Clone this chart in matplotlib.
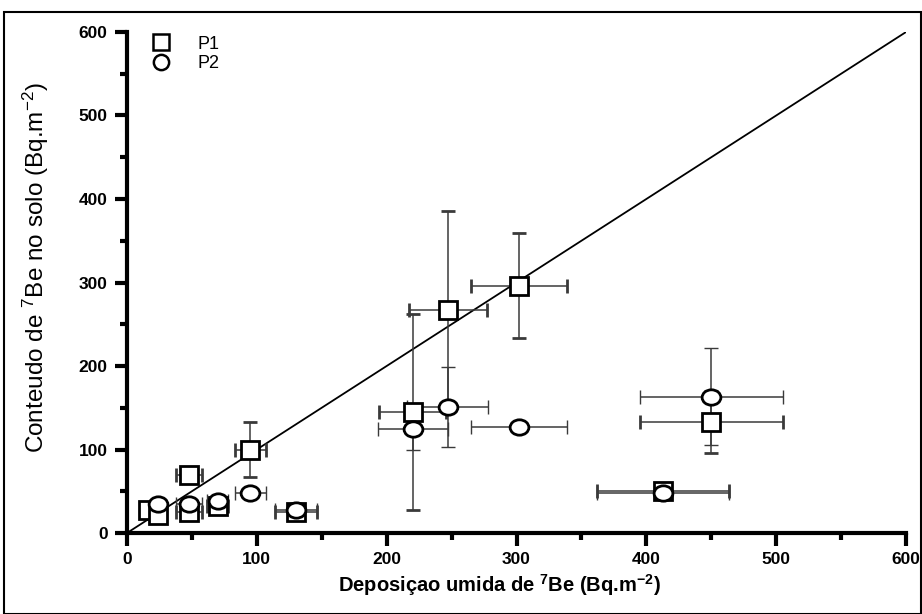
import numpy as np
import matplotlib
matplotlib.use("Agg")
import matplotlib.pyplot as plt
from matplotlib.patches import Rectangle
from matplotlib.path import Path

# ==========================================================
# 7Be: wet deposition vs soil content
# ==========================================================

plt.rcParams['font.family'] = ['Liberation Sans', 'DejaVu Sans']
plt.rcParams['mathtext.default'] = 'regular'

# P1 (squares)
p1_x = [16, 24, 48, 48, 70, 95, 130, 220, 247, 302, 413, 450]
p1_y = [28, 22, 70, 25, 32, 100, 25, 145, 267, 296, 50, 133]
p1_xerr = [4, 4, 10, 10, 8, 12, 16, 26, 30, 37, 51, 55]
p1_yerr = [4, 4, 5, 5, 8, 33, 4, 117, 119, 63, 4, 37]

# P2 (circles)
p2_x = [24, 48, 70, 95, 130, 220, 247, 302, 413, 450]
p2_y = [35, 35, 38, 48, 28, 125, 151, 127, 48, 163]
p2_xerr = [4, 10, 8, 12, 16, 27, 31, 37, 51, 55]
p2_yerr = [6, 6, 8, 4, 4, 25, 48, 4, 4, 58]

# 1:1 reference line
line_x = [0, 600]
line_y = [0, 600]

# slightly flattened circle marker
circ = Path.unit_circle()
ellipse = Path(circ.vertices * np.array([1.0, 0.82]), circ.codes)

fig = plt.figure(figsize=(9.22, 6.14), dpi=100)
ax = fig.add_axes([0.1377, 0.1319, 0.845, 0.816])

ax.plot(line_x, line_y, color='black', lw=1.3, zorder=1)

err_kw = dict(ecolor='#3a3a3a', elinewidth=1.1, capsize=5, capthick=1.0, zorder=2)
ax.errorbar(p1_x, p1_y, xerr=p1_xerr, yerr=p1_yerr, fmt='s', ms=13,
            mfc='white', mec='black', mew=2, label='P1', **err_kw)
ax.errorbar(p2_x, p2_y, xerr=p2_xerr, yerr=p2_yerr, fmt='none', **err_kw)
ax.plot(p2_x, p2_y, ls='none', marker=ellipse, ms=13.5, mfc='white',
        mec='black', mew=2, zorder=3)

ax.set_xlim(0, 600)
ax.set_ylim(0, 600)
ax.set_xticks(np.arange(0, 601, 100))
ax.set_yticks(np.arange(0, 601, 100))
ax.set_xticks(np.arange(50, 600, 100), minor=True)
ax.set_yticks(np.arange(50, 600, 100), minor=True)
ax.tick_params(which='major', direction='out', length=9, width=3,
               labelsize=12.5, pad=5)
ax.tick_params(which='minor', direction='out', length=5, width=3)
for lab in ax.get_xticklabels() + ax.get_yticklabels():
    lab.set_fontweight('bold')

for side in ['top', 'right']:
    ax.spines[side].set_visible(False)
for side in ['left', 'bottom']:
    ax.spines[side].set_linewidth(3)

ax.set_xlabel(r'Deposiçao umida de $^{7}$Be (Bq.m$^{-2}$)', fontsize=14.5,
              fontweight='bold')
ax.xaxis.set_label_coords(0.478, -0.078)
ax.set_ylabel(r'Conteudo de $^{7}$Be no solo (Bq.m$^{-2}$)', fontsize=17.5)
ax.yaxis.set_label_coords(-0.097, 0.53)

# legend markers without error bars
h1 = plt.Line2D([], [], ls='none', marker='s', ms=11, mfc='white',
                mec='black', mew=1.8)
h2 = plt.Line2D([], [], ls='none', marker='o', ms=11, mfc='white',
                mec='black', mew=1.8)
ax.legend([h1, h2], ['P1', 'P2'], loc='upper left', bbox_to_anchor=(0.0, 1.025),
          frameon=False, fontsize=13, handletextpad=1.0, labelspacing=0.15)

# outer frame
fig.patches.append(Rectangle((0.004, 0.0), 0.995, 0.98, transform=fig.transFigure,
                             fill=False, lw=1.5, ec='black'))

fig.savefig('out.png', dpi=100)
